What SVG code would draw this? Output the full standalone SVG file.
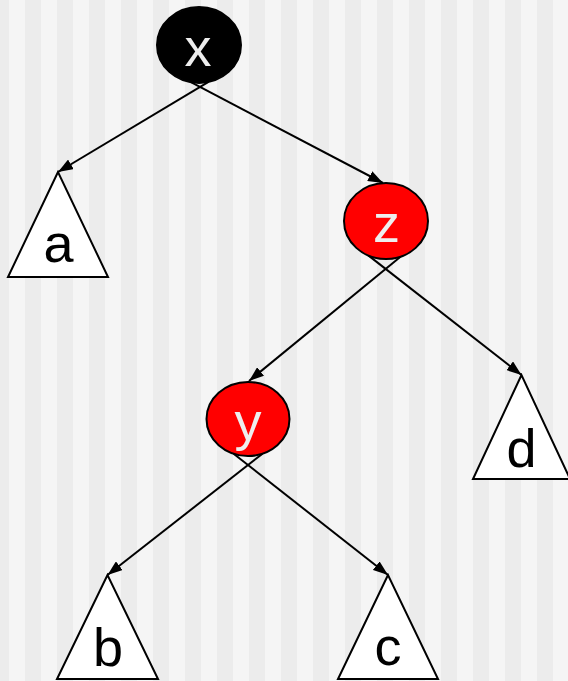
<svg xmlns="http://www.w3.org/2000/svg" width="568" height="681" viewBox="0 0 568 681">
  <defs>
    <pattern id="stripes" x="0" y="0" width="32" height="681" patternUnits="userSpaceOnUse">
      <rect x="0" y="0" width="32" height="681" fill="#f5f5f5"/>
      <rect x="0" y="0" width="9" height="681" fill="#ececec"/>
      <rect x="25" y="0" width="7" height="681" fill="#ececec"/>
    </pattern>
    <marker id="arrow" markerWidth="15" markerHeight="11" refX="15" refY="5.5" orient="auto" markerUnits="userSpaceOnUse">
      <path d="M0,0 L15,5.5 L0,11 z" fill="#000"/>
    </marker>
  </defs>
  <style>
    .edge { stroke: #000; stroke-width: 2; fill: none; marker-end: url(#arrow); }
    .tri { fill: #fff; stroke: #000; stroke-width: 2; stroke-linejoin: miter; }
    .black { fill: #000; stroke: #000; stroke-width: 2; }
    .red { fill: #ff0000; stroke: #000; stroke-width: 2; }
    .lbl { font-family: "Liberation Sans", Arial, sans-serif; font-size: 54px; text-anchor: middle; fill: #000; }
    .lbl-in { font-family: "Liberation Sans", Arial, sans-serif; font-size: 54px; text-anchor: middle; fill: #eeeeee; }
  </style>
  <rect x="0" y="0" width="568" height="681" fill="url(#stripes)"/>

  <g id="connectors">
    <line class="edge" x1="208.5" y1="81.9" x2="58" y2="172"/>
    <line class="edge" x1="190.9" y1="82.2" x2="383" y2="183"/>
    <line class="edge" x1="400.8" y1="256.6" x2="249" y2="381"/>
    <line class="edge" x1="368.3" y1="255.4" x2="521.5" y2="375"/>
    <line class="edge" x1="262.5" y1="453.7" x2="107.5" y2="575"/>
    <line class="edge" x1="233.6" y1="453.7" x2="388" y2="575"/>
  </g>

  <g id="node-x">
    <ellipse class="black" cx="199" cy="45" rx="42" ry="38"/>
    <text class="lbl-in" x="198" y="66">x</text>
  </g>
  <g id="node-z">
    <ellipse class="red" cx="386" cy="221" rx="42" ry="38"/>
    <text class="lbl-in" x="386.5" y="242">z</text>
  </g>
  <g id="node-y">
    <ellipse class="red" cx="248" cy="419" rx="41.5" ry="37"/>
    <text class="lbl-in" x="248" y="440">y</text>
  </g>
  <g id="node-a">
    <polygon class="tri" points="58,172 8,277 108,277"/>
    <text class="lbl" x="58.5" y="262">a</text>
  </g>
  <g id="node-b">
    <polygon class="tri" points="107.5,575 57,679 158,679"/>
    <text class="lbl" x="108" y="666">b</text>
  </g>
  <g id="node-c">
    <polygon class="tri" points="388,575 338,679 438,679"/>
    <text class="lbl" x="388" y="665">c</text>
  </g>
  <g id="node-d">
    <polygon class="tri" points="521.5,375 473,479 570,479"/>
    <text class="lbl" x="521.5" y="467">d</text>
  </g>
</svg>
